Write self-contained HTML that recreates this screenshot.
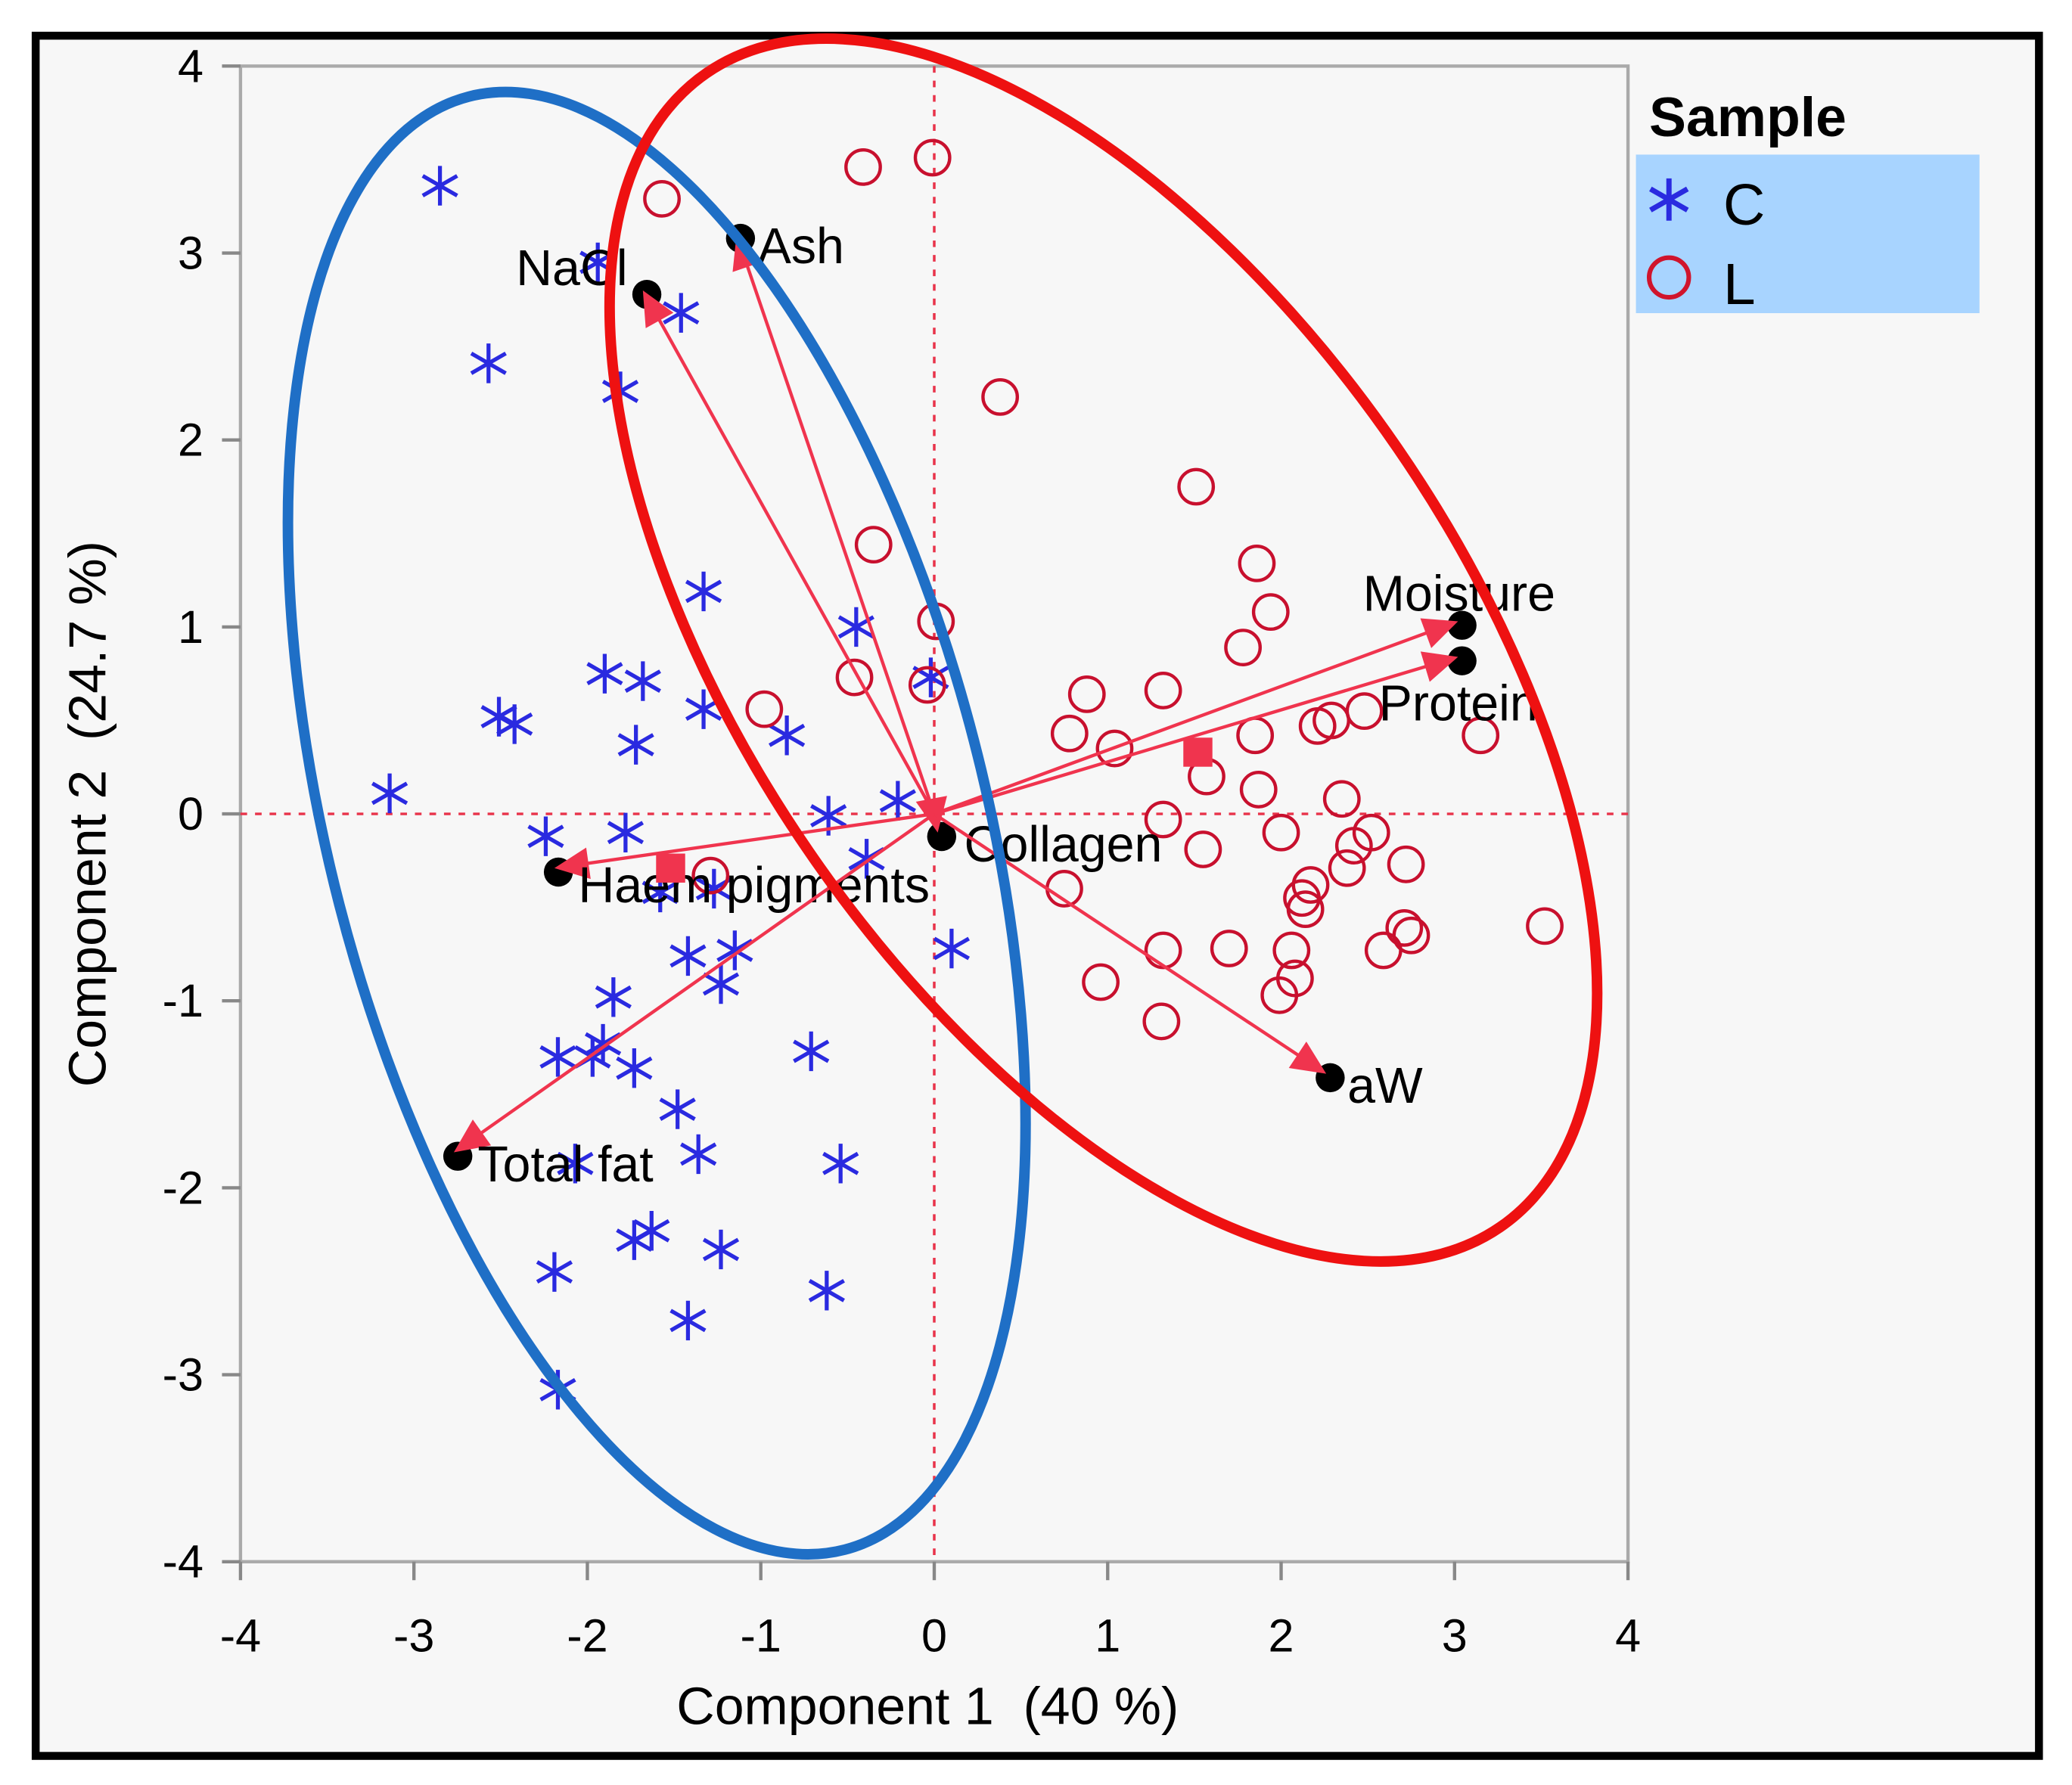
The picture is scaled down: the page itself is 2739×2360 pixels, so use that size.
<!DOCTYPE html>
<html><head><meta charset="utf-8"><style>
html,body{margin:0;padding:0;background:#fff}
svg{display:block}
text{font-family:"Liberation Sans",sans-serif}
</style></head><body>
<svg id="chart" width="2739" height="2360" viewBox="0 0 1568 1351" xmlns="http://www.w3.org/2000/svg">
<rect x="0" y="0" width="1568" height="1351" fill="#fff"/>
<rect x="27" y="27" width="1516" height="1302" fill="#f7f7f7" stroke="#000" stroke-width="6"/>
<g id="axes"></g>
<g id="marks"></g>
<g id="overlay"></g>
<text x="1248" y="103" font-size="42" font-weight="bold">Sample</text>
<rect x="1238" y="117" width="260" height="120" fill="#a8d4ff"/>
<g>
<g stroke="#2a2ae0" stroke-width="4"><line x1="1263" y1="135" x2="1263" y2="167"/><line x1="1249" y1="143" x2="1277" y2="159"/><line x1="1249" y1="159" x2="1277" y2="143"/></g>
<text x="1304" y="170" font-size="44">C</text></g>
<g>
<circle cx="1263" cy="210" r="15" fill="none" stroke="#d0142c" stroke-width="3.5"/>
<text x="1304" y="230" font-size="44">L</text></g>
<text x="702" y="1305" font-size="40" text-anchor="middle" xml:space="preserve">Component 1  (40 %)</text>
<text transform="translate(80,616) rotate(-90)" font-size="40" text-anchor="middle" xml:space="preserve">Component 2  (24.7 %)</text>
</svg>
<script>
const ticks=[-4,-3,-2,-1,0,1,2,3,4];
const cX=[-2.85,-2.57,-1.94,-1.81,-1.46,-1.33,-0.45,-0.02,-3.14,-2.51,-2.42,-1.90,-1.68,-1.72,-1.33,-0.85,-2.24,-1.78,-0.61,-0.21,-1.58,-1.27,-0.39,0.10,-1.42,-1.15,-1.23,-1.85,-2.17,-1.91,-1.73,-0.71,-1.48,-1.36,-0.54,-2.07,-1.73,-1.63,-1.23,-2.19,-1.42,-0.62,-2.17,-1.97];
const cY=[3.36,2.41,2.95,2.26,2.68,1.19,1.00,0.73,0.11,0.52,0.48,0.75,0.71,0.37,0.56,0.42,-0.12,-0.10,-0.01,0.07,-0.42,-0.40,-0.24,-0.72,-0.76,-0.73,-0.91,-0.98,-1.30,-1.23,-1.36,-1.27,-1.58,-1.82,-1.87,-1.87,-2.28,-2.23,-2.33,-2.45,-2.71,-2.55,-3.08,-1.30];
const lX=[-1.57,-0.41,-0.01,0.38,1.51,-0.35,0.01,-0.46,-0.04,-0.98,1.86,1.94,1.78,0.88,1.32,0.78,1.04,1.85,2.21,2.29,2.48,3.15,1.57,1.87,2.35,1.32,2.00,2.52,2.42,1.55,2.38,2.72,0.75,2.17,2.12,2.14,1.32,1.70,2.06,2.59,2.71,2.75,3.52,0.96,2.08,1.99,1.31,-1.29];
const lY=[3.29,3.46,3.51,2.23,1.75,1.44,1.03,0.73,0.69,0.56,1.34,1.08,0.89,0.64,0.66,0.43,0.35,0.42,0.47,0.50,0.55,0.42,0.20,0.13,0.08,-0.03,-0.10,-0.10,-0.17,-0.19,-0.29,-0.27,-0.40,-0.38,-0.45,-0.51,-0.73,-0.72,-0.73,-0.73,-0.61,-0.65,-0.60,-0.90,-0.88,-0.97,-1.11,-0.33];
const loadNames=["Ash","NaCl","Moisture","Protein","Haem pigments","Collagen","aW","Total fat"];
const loadX=[-1.14,-1.68,3.02,3.02,-2.19,0.02,2.26,-2.77];
const loadY=[3.10,2.80,1.03,0.84,-0.29,-0.10,-1.39,-1.81];
const sqX=[1.52,-1.52];
const sqY=[0.33,-0.29];

const NS="http://www.w3.org/2000/svg";
const X0=182,X1=1232,Y0=1182,Y1=50;
function sx(v){return X0+(v+4)/8*(X1-X0);}
function sy(v){return Y0-(v+4)/8*(Y0-Y1);}
function mk(t,a,p){const e=document.createElementNS(NS,t);for(const k in a)e.setAttribute(k,a[k]);p.appendChild(e);return e;}
const axes=document.getElementById('axes'),marks=document.getElementById('marks'),ov=document.getElementById('overlay');
let e=mk('rect',{x:X0,y:Y1,width:X1-X0,height:Y0-Y1,fill:'none',stroke:'#aaa','stroke-width':2.5},axes);


ticks.forEach(t=>{
 let a=mk('line',{x1:sx(t),x2:sx(t),y1:Y0,y2:Y0+14,stroke:'#888','stroke-width':2.5},axes);
 
 
 let b=mk('text',{x:sx(t),y:Y0+68,'font-size':35,'text-anchor':'middle'},axes);b.textContent=t;
 
 
 let c=mk('line',{x1:X0-14,x2:X0,y1:sy(t),y2:sy(t),stroke:'#888','stroke-width':2.5},axes);
 
 
 let d=mk('text',{x:X0-28,y:sy(t)+12,'font-size':35,'text-anchor':'end'},axes);d.textContent=t;
 
 
});
e=mk('line',{x1:X0,x2:X1,y1:sy(0),y2:sy(0),stroke:'#e8334a','stroke-width':2,'stroke-dasharray':'5,6'},axes);


e=mk('line',{x1:sx(0),x2:sx(0),y1:Y1,y2:Y0,stroke:'#e8334a','stroke-width':2,'stroke-dasharray':'5,6'},axes);


cX.forEach((v,i)=>{
 const g=mk('g',{stroke:'#2a2ae0','stroke-width':3},marks);
 
 
 const x=sx(v),y=sy(cY[i]),r=15;
 mk('line',{x1:x,y1:y-r,x2:x,y2:y+r},g);
 mk('line',{x1:x-r*0.87,y1:y-r*0.5,x2:x+r*0.87,y2:y+r*0.5},g);
 mk('line',{x1:x-r*0.87,y1:y+r*0.5,x2:x+r*0.87,y2:y-r*0.5},g);
});
lX.forEach((v,i)=>{
 const c=mk('circle',{cx:sx(v),cy:sy(lY[i]),r:13,fill:'none',stroke:'#c8102e','stroke-width':2.5},marks);
 
 
});
const lblOff=[[16,22],[-96,-4],[-72,-8],[-60,48],[18,26],[20,22],[16,22],[18,22]];
loadNames.forEach((n,i)=>{
 const x=sx(loadX[i]),y=sy(loadY[i]),ox=sx(0),oy=sy(0);
 const g=mk('g',{},ov);
 
 
 mk('line',{x1:ox,y1:oy,x2:x,y2:y,stroke:'#f0344e','stroke-width':2.5},g);
 mk('circle',{cx:x+3,cy:y+3,r:11,fill:'#000'},g);
 const ang=Math.atan2(y-oy,x-ox),L=26,W=12;
 const bx=x-L*Math.cos(ang),by=y-L*Math.sin(ang);
 mk('polygon',{points:`${x},${y} ${bx-W*Math.sin(ang)},${by+W*Math.cos(ang)} ${bx+W*Math.sin(ang)},${by-W*Math.cos(ang)}`,fill:'#f0344e'},g);
 const t=mk('text',{x:x+lblOff[i][0],y:y+lblOff[i][1],'font-size':38},g);t.textContent=n;
});
sqX.forEach((v,i)=>{
 const s=mk('rect',{x:sx(v)-11,y:sy(sqY[i])-11,width:22,height:22,fill:'#f0344e'},ov);
 
 
});
e=mk('ellipse',{cx:497,cy:623,rx:248,ry:568,fill:'none',stroke:'#1f6fc6','stroke-width':8,transform:'rotate(-14.5 497 623)'},ov);


e=mk('ellipse',{cx:835,cy:492,rx:270,ry:530,fill:'none',stroke:'#ee1111','stroke-width':8,transform:'rotate(-34.5 835 492)'},ov);


</script>
</body></html>
